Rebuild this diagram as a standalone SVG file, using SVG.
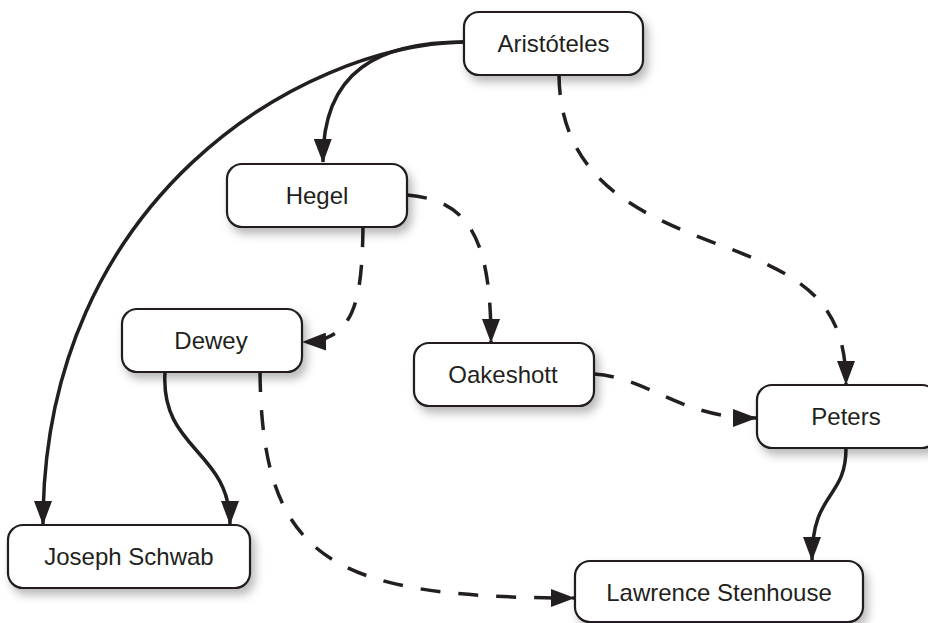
<svg xmlns="http://www.w3.org/2000/svg" width="928" height="623" viewBox="0 0 928 623">
<defs>
<filter id="sh" x="-20%" y="-30%" width="150%" height="180%">
<feDropShadow dx="4" dy="6" stdDeviation="5" flood-color="#000" flood-opacity="0.28"/>
</filter>
<marker id="ah" markerUnits="userSpaceOnUse" markerWidth="24" markerHeight="18" refX="23" refY="9" orient="auto" viewBox="0 0 24 18">
<path d="M0,0 L24,9 L0,18 z" fill="#231f20"/>
</marker>
</defs>
<style>
.box{fill:#fff;stroke:#231f20;stroke-width:2.2;filter:url(#sh)}
.lbl{font-family:"Liberation Sans",Arial,sans-serif;font-size:24px;fill:#231f20;text-anchor:middle}
.c{fill:none;stroke:#231f20;stroke-width:3.5;marker-end:url(#ah)}
.d{stroke-dasharray:20 18}
</style>
<rect width="928" height="623" fill="#fff"/>
<g id="connectors">
<path class="c" d="M464,42 C380,42 322,70 323,162"/>
<path class="c" d="M464,42 C300,45 43,200 43,524"/>
<path class="c d" d="M559,75 C560,180 640,215 720,245 C800,275 846,300 846,384"/>
<path class="c d" d="M407,195 C470,200 491,240 491,342"/>
<path class="c d" d="M363,227 C362,300 355,341 303,342"/>
<path class="c" d="M165,372 C160,450 230,450 230,524"/>
<path class="c d" d="M260,372 C262,560 330,598 574,598"/>
<path class="c d" d="M594,374 C650,378 680,418 756,418"/>
<path class="c" d="M846,448 C846,500 812,490 812,560"/>
</g>
<g id="aristoteles"><rect class="box" x="464" y="12" width="179" height="63" rx="15"/><text class="lbl" x="553.5" y="52">Aristóteles</text></g>
<g id="hegel"><rect class="box" x="227" y="164" width="180" height="63" rx="15"/><text class="lbl" x="317" y="204">Hegel</text></g>
<g id="dewey"><rect class="box" x="122" y="309" width="180" height="63" rx="15"/><text class="lbl" x="211" y="349">Dewey</text></g>
<g id="oakeshott"><rect class="box" x="414" y="343" width="180" height="63" rx="15"/><text class="lbl" x="503" y="383">Oakeshott</text></g>
<g id="peters"><rect class="box" x="757" y="385" width="180" height="63" rx="15"/><text class="lbl" x="846" y="425">Peters</text></g>
<g id="schwab"><rect class="box" x="8" y="525" width="242" height="63" rx="15"/><text class="lbl" x="129" y="565">Joseph Schwab</text></g>
<g id="stenhouse"><rect class="box" x="575" y="561" width="288" height="61" rx="15"/><text class="lbl" x="719" y="601">Lawrence Stenhouse</text></g>
</svg>
